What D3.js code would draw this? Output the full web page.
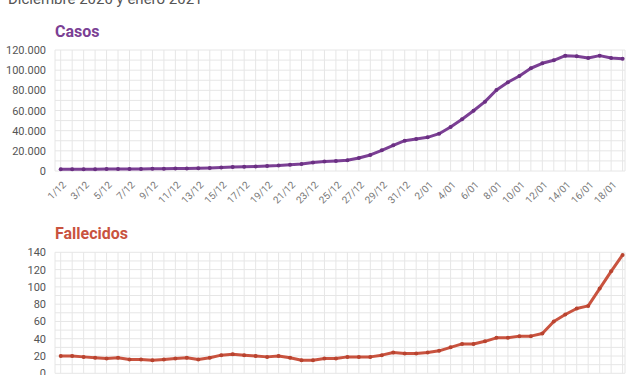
<!DOCTYPE html>
<html><head><meta charset="utf-8">
<script src="https://cdnjs.cloudflare.com/ajax/libs/d3/7.8.5/d3.min.js"></script>
<style>
body{margin:0;background:#fff;}
svg{display:block;font-family:Roboto,"Noto Sans",sans-serif;}
</style></head>
<body><svg id="c" width="635" height="375"></svg>
<script>
const dates = ["1/12","2/12","3/12","4/12","5/12","6/12","7/12","8/12","9/12","10/12",
"11/12","12/12","13/12","14/12","15/12","16/12","17/12","18/12","19/12","20/12",
"21/12","22/12","23/12","24/12","25/12","26/12","27/12","28/12","29/12","30/12","31/12",
"1/01","2/01","3/01","4/01","5/01","6/01","7/01","8/01","9/01","10/01",
"11/01","12/01","13/01","14/01","15/01","16/01","17/01","18/01","19/01"];
const casos = [1700,1750,1800,1850,1900,1950,2000,2100,2200,2300,
2450,2600,2800,3000,3400,3900,4200,4500,4900,5400,
6200,7000,8500,9500,10000,10600,12900,15900,20500,25500,30100,
31700,33400,37000,43600,51300,59800,68800,80400,88000,94200,
101900,106800,109800,114400,113800,112100,114400,112100,111400];
const fallecidos = [20,20,19,18,17,18,16,16,15,16,
17,18,16,18,21,22,21,20,19,20,
18,15,15,17,17,19,19,19,21,24,23,
23,24,26,30,34,34,37,41,41,43,
43,46,60,68,75,78,98,118,137];
const casosTicks = [0,20000,40000,60000,80000,100000,120000];
const fallTicks = [0,20,40,60,80,100,120,140];
const subtitle = "Diciembre 2020 y enero 2021";

const svg = d3.select("#c");
const left = 55, right = 625;
const x = d3.scaleLinear().domain([0, dates.length-1]).range([60.7, 622.6]);
const fmt = v => d3.format(",")(v).replace(/,/g, ".");

svg.append("text").attr("x", 8).attr("y", 4).attr("font-size", 15).attr("fill", "#555").text(subtitle);

function panel(opts){
  const g = svg.append("g");
  const y = d3.scaleLinear().domain([0, opts.max]).range([opts.y0, opts.y1]);
  const hl = d3.range(0, opts.max + opts.minor/2, opts.minor);
  g.selectAll(".h").data(hl).join("line")
    .attr("x1", left).attr("x2", right)
    .attr("y1", d => y(d)).attr("y2", d => y(d))
    .attr("stroke", "#e6e6e6").attr("stroke-width", 1);
  g.selectAll(".v").data(dates).join("line")
    .attr("x1", (d,i) => x(i)).attr("x2", (d,i) => x(i))
    .attr("y1", y(0)).attr("y2", y(opts.max))
    .attr("stroke", "#e6e6e6").attr("stroke-width", 1);
  g.append("line").attr("x1", left).attr("x2", left).attr("y1", y(0)).attr("y2", y(opts.max)).attr("stroke", "#e6e6e6");
  g.append("line").attr("x1", right).attr("x2", right).attr("y1", y(0)).attr("y2", y(opts.max)).attr("stroke", "#e6e6e6");
  const ya = d3.axisLeft(y).tickValues(opts.ticks).tickFormat(opts.fmt).tickSize(0).tickPadding(0);
  const ag = g.append("g").attr("transform", `translate(46,0)`).call(ya);
  ag.select(".domain").remove();
  ag.selectAll("text").attr("font-size", 11).attr("fill", "#555").attr("font-family", "Roboto,sans-serif");
  if (opts.xaxis) {
    const xa = d3.axisBottom(x).tickValues(d3.range(0, dates.length - 1, 2)).tickFormat(i => dates[i]).tickSize(0).tickPadding(0);
    const xg = g.append("g").attr("transform", `translate(0,${y(0)+12})`).call(xa);
    xg.select(".domain").remove();
    xg.selectAll("text").attr("font-size", 10).attr("fill", "#777").attr("font-family", "Roboto,sans-serif")
      .attr("text-anchor", "end").attr("dy", "0.35em")
      .attr("transform", "translate(3,0) rotate(-45)");
  }
  g.append("text").attr("x", 55).attr("y", opts.ty).attr("font-size", 16).attr("font-weight", "bold")
    .attr("fill", opts.color).text(opts.title);
  const line = d3.line().x((d,i) => x(i)).y(d => y(d)).curve(d3.curveLinear);
  g.append("path").datum(opts.data).attr("d", line).attr("fill", "none")
    .attr("stroke", opts.color).attr("stroke-width", 3).attr("stroke-linejoin", "round");
  g.selectAll(".pt").data(opts.data).join("circle")
    .attr("cx", (d,i) => x(i)).attr("cy", d => y(d)).attr("r", 2)
    .attr("fill", opts.dot);
}

panel({data: casos, max: 120000, minor: 10000, ticks: casosTicks, fmt: fmt, y0: 171, y1: 50,
  color: "#7b3f94", dot: "#6a2f82", title: "Casos", ty: 37, xaxis: true});
panel({data: fallecidos, max: 140, minor: 10, ticks: fallTicks, fmt: d3.format("d"), y0: 373.3, y1: 252.3,
  color: "#c9533f", dot: "#b8432f", title: "Fallecidos", ty: 239, xaxis: false});
</script>
</body></html>
